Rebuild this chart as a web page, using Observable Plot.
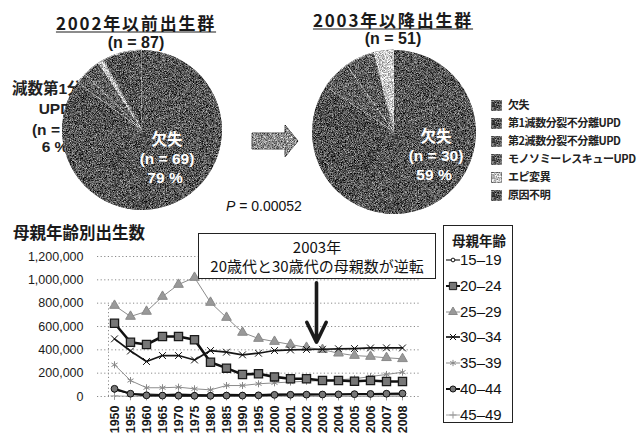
<!DOCTYPE html>
<html>
<head>
<meta charset="utf-8">
<script src="https://cdn.jsdelivr.net/npm/d3@7"></script>
<script src="https://cdn.jsdelivr.net/npm/@observablehq/plot@0.6"></script>
<style>
  body { margin: 0; background: #fff; }
  #page { position: relative; width: 638px; height: 437px; overflow: hidden; background: #fff;
          font-family: "Noto Sans CJK JP", "Liberation Sans", sans-serif; color: #1a1a1a; }
  .abs { position: absolute; white-space: nowrap; line-height: 1; }
  .layer { position: absolute; left: 0; }
  .lines g[aria-label="x-axis tick label"] text { font-weight: bold; }
</style>
</head>
<body>
<div id="page"></div>
<script>
// ---- Pie data: cause of the disorder, by birth cohort ----
const pieCategories = ["欠失", "第1減数分裂不分離UPD", "第2減数分裂不分離UPD", "モノソミーレスキューUPD", "エピ変異", "原因不明"];
const pieBefore2002 = [69, 5, 2, 3, 1, 7];   // n = 87
const pieAfter2003  = [30, 13, 3, 3, 2, 0];  // n = 51
const pieTitles = ["2002年以前出生群", "2003年以降出生群"];
const pValue = "0.00052";

// ---- Line data: births by mother's age ----
const years = ["1950", "1955", "1960", "1965", "1970", "1975", "1980", "1985", "1990", "1995",
               "2000", "2001", "2002", "2003", "2004", "2005", "2006", "2007", "2008"];
const ageGroups = ["15–19", "20–24", "25–29", "30–34", "35–39", "40–44", "45–49"];
const births15to19 = [56000, 23000, 20000, 17000, 20000, 16000, 15000, 18000, 17000, 16000,
                      20000, 20000, 21000, 19000, 17000, 17000, 16000, 15000, 15000];
const births20to24 = [628000, 465000, 446000, 514000, 514000, 486000, 294000, 243000, 189000, 195000,
                      168000, 152000, 152000, 137000, 137000, 131000, 137000, 129000, 129000];
const births25to29 = [780000, 686000, 729000, 857000, 960000, 1020000, 806000, 677000, 549000, 497000,
                      471000, 446000, 420000, 402000, 371000, 351000, 343000, 332000, 323000];
const births30to34 = [494000, 390000, 300000, 351000, 351000, 313000, 394000, 380000, 357000, 371000,
                      394000, 399000, 403000, 405000, 409000, 411000, 416000, 417000, 416000];
const births35to39 = [272000, 137000, 75000, 75000, 80000, 66000, 57000, 94000, 94000, 109000,
                      117000, 124000, 131000, 137000, 143000, 152000, 171000, 189000, 208000];
const births40to44 = [66000, 24000, 10000, 8000, 7000, 6000, 6000, 8000, 8000, 10000,
                      14000, 15000, 16000, 17000, 18000, 20000, 22000, 24000, 26000];
const births45to49 = [5000, 2000, 1000, 500, 400, 300, 300, 300, 300, 300,
                      400, 400, 400, 400, 500, 500, 600, 600, 700];
const yTicks = [0, 200000, 400000, 600000, 800000, 1000000, 1200000];
const turningYear = "2003";

// ---- styles ----
const sliceFill = ["#565656", "#525252", "#5c5c5c", "#5e5e5e", "#c8c8c8", "#545454"];
const seriesStyle = [
  {stroke: "#111", width: 1.1, symbol: "circle",   r: 2.1, fill: "#fff",  dot: "#111"},
  {stroke: "#111", width: 2.6, symbol: "square",   r: 4.6, fill: "#777",  dot: "#1a1a1a"},
  {stroke: "#8c8c8c", width: 1, symbol: "triangle", r: 3.6, fill: "#999", dot: "#888"},
  {stroke: "#151515", width: 1.7, symbol: "times", r: 3.2, fill: "none",  dot: "#111"},
  {stroke: "#8c8c8c", width: 1, symbol: "asterisk", r: 3.3, fill: "none", dot: "#888"},
  {stroke: "#111", width: 2.1, symbol: "circle",   r: 3.4, fill: "#777",  dot: "#111"},
  {stroke: "#9a9a9a", width: 0.9, symbol: "plus",   r: 2.7, fill: "none", dot: "#999"}
];
const seriesValues = [births15to19, births20to24, births25to29, births30to34, births35to39, births40to44, births45to49];

const page = document.getElementById("page");
function label(text, css, html) {
  const d = document.createElement("div");
  d.className = "abs";
  if (html) d.innerHTML = text; else d.textContent = text;
  Object.assign(d.style, css);
  page.appendChild(d);
  return d;
}
const centered = (x, y) => ({left: x + "px", top: y + "px", transform: "translate(-50%,-50%)"});

// label for the first UPD slice, partly tucked behind the left pie
const upd1Share = Math.round(pieBefore2002[1] / d3.sum(pieBefore2002) * 100);
[["減数第1分裂", 89], ["UPD", 109], [`(n = ${pieBefore2002[1]})`, 130], [`${upd1Share} %`, 147]].forEach(([t, y]) =>
  label(t, {...centered(55, y), fontSize: "15.5px", fontWeight: "bold", fontFamily: "Liberation Sans, 'Noto Sans CJK JP'", color: "#222"}));

// ---- pies ----
const grainDefs = () => {
  const defs = d3.create("svg:defs");
  const f = defs.append("filter").attr("id", "grain").attr("x", "-2%").attr("y", "-2%")
    .attr("width", "104%").attr("height", "104%").attr("color-interpolation-filters", "sRGB");
  f.append("feTurbulence").attr("type", "fractalNoise").attr("baseFrequency", 1.3)
    .attr("numOctaves", 2).attr("seed", 5).attr("result", "noise");
  f.append("feColorMatrix").attr("in", "noise").attr("type", "matrix")
    .attr("values", "1 0 0 0 0  1 0 0 0 0  1 0 0 0 0  0 0 0 0 1").attr("result", "gray");
  f.append("feComposite").attr("in", "SourceGraphic").attr("in2", "gray").attr("operator", "arithmetic")
    .attr("k1", 0).attr("k2", 1).attr("k3", 1.3).attr("k4", -0.65).attr("result", "mix");
  f.append("feComposite").attr("in", "mix").attr("in2", "SourceGraphic").attr("operator", "in");
  return defs.node();
};

function pieMark(counts, cx, cy, radius) {
  return () => {
    const g = d3.create("svg:g").attr("transform", `translate(${cx},${cy})`);
    const arcs = d3.pie().sort(null).value(d => d)(counts);
    const arc = d3.arc().innerRadius(0).outerRadius(radius);
    g.selectAll("path").data(arcs).join("path")
      .attr("d", arc)
      .attr("fill", (d, i) => sliceFill[i])
      .attr("stroke", (d, i) => i < 2 ? "none" : "#dadada")
      .attr("stroke-width", 0.8)
      .attr("filter", "url(#grain)");
    return g.node();
  };
}

const cohortArrow = () => {
  const g = d3.create("svg:g");
  g.append("path")
    .attr("d", "M252,133 H285 V125 L298,141 L285,157 V149 H252 Z")
    .attr("fill", "#8e8e8e").attr("stroke", "#4a4a4a").attr("stroke-width", 0.8)
    .attr("filter", "url(#grain)");
  return g.node();
};

const pies = Plot.plot({
  width: 638, height: 215, margin: 0,
  style: {background: "transparent", overflow: "visible"},
  marks: [grainDefs, pieMark(pieBefore2002, 142, 130, 80), pieMark(pieAfter2003, 394, 132, 82), cohortArrow]
});
pies.classList.add("layer");
pies.style.top = "0px";
page.appendChild(pies);

// cohort titles
[[pieTitles[0], pieBefore2002, 136, 22, 43], [pieTitles[1], pieAfter2003, 393, 18.5, 39]].forEach(([t, counts, x, y1, y2]) => {
  label(t, {...centered(x, y1), fontSize: "17px", fontWeight: "bold", letterSpacing: "1.8px",
            textDecoration: "underline", textUnderlineOffset: "2px", color: "#1a1a1a"});
  label(`(n = ${d3.sum(counts)})`, {...centered(x, y2), fontSize: "16px", fontWeight: "bold",
            fontFamily: "Liberation Sans, sans-serif", color: "#1a1a1a"});
});

// deletion share inside each pie
[[pieBefore2002, 167, 139], [pieAfter2003, 436, 136]].forEach(([counts, x, y]) => {
  const share = Math.round(counts[0] / d3.sum(counts) * 100);
  const css = {fontWeight: "bold", color: "#fff", fontSize: "15.5px"};
  label(pieCategories[0], {...centered(x, y), ...css});
  label(`(n = ${counts[0]})`, {...centered(x, y + 20), ...css, fontFamily: "Liberation Sans, sans-serif"});
  label(`${share} %`, {...centered(x - 2, y + 39), ...css, fontFamily: "Liberation Sans, sans-serif"});
});

label(`<i>P</i> = ${pValue}`, {left: "226px", top: "199px", fontSize: "14px",
      fontFamily: "Liberation Sans, sans-serif", color: "#111"}, true);

// pie legend
pieCategories.forEach((c, i) => {
  const y = 105 + i * 18;
  const sw = document.createElementNS("http://www.w3.org/2000/svg", "svg");
  sw.setAttribute("width", 11); sw.setAttribute("height", 11);
  sw.innerHTML = `<rect width="10" height="10" x="0.5" y="0.5" fill="${sliceFill[i]}" stroke="#555" stroke-width="0.5" filter="url(#grain)"/>`;
  Object.assign(sw.style, {position: "absolute", left: "491px", top: (y - 5.5) + "px"});
  page.appendChild(sw);
  label(c, {left: "508px", top: (y - 6) + "px", fontSize: "11px", fontWeight: "bold", color: "#222", letterSpacing: "-0.45px"});
});

// ---- births by mother's age ----
label("母親年齢別出生数", {left: "13px", top: "224px", fontSize: "16.5px", fontWeight: "bold", color: "#1a1a1a"});

const turningIndex = years.indexOf(turningYear);
const lineMarks = [];
[6, 4, 2, 0, 5, 3, 1].forEach(k => {
  const s = seriesStyle[k];
  const rows = years.map((year, i) => ({year, births: seriesValues[k][i]}));
  lineMarks.push(Plot.line(rows, {x: "year", y: "births", stroke: s.stroke, strokeWidth: s.width}));
  lineMarks.push(Plot.dot(rows, {x: "year", y: "births", symbol: () => s.symbol, r: s.r,
    fill: s.fill, stroke: s.dot, strokeWidth: s.symbol === "square" ? 1.3 : 1}));
});

const lines = Plot.plot({
  width: 638, height: 222,
  marginLeft: 97, marginRight: 218, marginTop: 41, marginBottom: 41,
  style: {background: "transparent", fontFamily: "Liberation Sans, Arial, sans-serif", color: "#1a1a1a"},
  x: {type: "point", domain: years, range: [103, 413]},
  y: {domain: [0, 1200000]},
  symbol: {type: "identity"},
  marks: [
    Plot.ruleY(yTicks, {stroke: "#8a8a8a", strokeWidth: 1, strokeDasharray: "1.2,2.4"}),
    Plot.ruleX([years[0]], {dx: -6, y1: 0, y2: 800000, stroke: "#8a8a8a", strokeDasharray: "1.2,2.4"}),
    Plot.axisY(yTicks, {tickSize: 0, tickPadding: 14, tickFormat: d3.format(","), label: null, fontSize: 12.5}),
    Plot.axisX({tickSize: 0, tickPadding: 9, tickRotate: -90, label: null, fontSize: 12.5}),
    ...lineMarks,
    Plot.arrow([{year: turningYear, top: 975000, tip: births30to34[turningIndex]}], {
      x1: "year", x2: "year", y1: "top", y2: "tip", dx: -6, insetEnd: 7,
      stroke: "#1a1a1a", strokeWidth: 3.6, headLength: 16, headAngle: 52
    })
  ]
});
lines.classList.add("layer", "lines");
lines.style.top = "215px";
page.appendChild(lines);

// annotation box
label(`${turningYear}年<br>20歳代と30歳代の母親数が逆転`, {
  left: "198px", top: "233px", width: "236px", height: "41px", border: "1.5px solid #222",
  background: "#fff", textAlign: "center", fontSize: "15px", lineHeight: "19px", paddingTop: "3px",
  boxSizing: "content-box", color: "#111"}, true);

// age legend
const legend = document.createElement("div");
Object.assign(legend.style, {position: "absolute", left: "443px", top: "225px", width: "68px", height: "196px",
  border: "1.5px solid #222", background: "#fff"});
page.appendChild(legend);
label("母親年齢", {...centered(479, 241), fontSize: "13.5px", fontWeight: "bold", color: "#1a1a1a"});
const symbolTypes = {circle: d3.symbolCircle, square: d3.symbolSquare, triangle: d3.symbolTriangle,
  times: d3.symbolTimes, asterisk: d3.symbolAsterisk, plus: d3.symbolPlus};
ageGroups.forEach((a, i) => {
  const y = 260 + i * 25.8;
  const s = seriesStyle[i];
  const sv = document.createElementNS("http://www.w3.org/2000/svg", "svg");
  sv.setAttribute("width", 16); sv.setAttribute("height", 12);
  const path = d3.symbol(symbolTypes[s.symbol], Math.PI * s.r * s.r * 0.8)();
  sv.innerHTML = `<line x1="1" x2="15" y1="6" y2="6" stroke="${s.stroke}" stroke-width="${Math.min(s.width, 2)}"/>` +
    `<path transform="translate(8,6)" d="${path}" fill="${s.fill}" stroke="${s.dot}" stroke-width="1"/>`;
  Object.assign(sv.style, {position: "absolute", left: "445px", top: (y - 6) + "px"});
  page.appendChild(sv);
  label(a, {left: "460px", top: (y - 8) + "px", fontSize: "15px", fontFamily: "Liberation Sans, Arial, sans-serif", color: "#111"});
});
</script>
</body>
</html>
